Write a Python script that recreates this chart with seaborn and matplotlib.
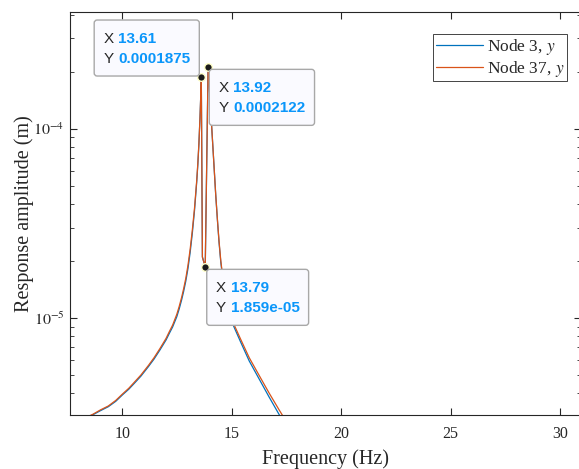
import numpy as np
import pandas as pd
import matplotlib
matplotlib.use("Agg")
import matplotlib.pyplot as plt
import seaborn as sns
from matplotlib.patches import FancyBboxPatch
from matplotlib.transforms import IdentityTransform
from matplotlib.ticker import FuncFormatter, LogLocator, NullFormatter

# ---------------- data ----------------
freq = [8.0, 8.65, 9.0, 9.36, 9.7, 10.0, 10.3, 10.55, 10.85, 11.19, 11.45, 11.72,
        12.0, 12.15, 12.3, 12.49, 12.6, 12.71, 12.8, 12.9, 13.0, 13.1, 13.2, 13.3,
        13.4, 13.45, 13.5, 13.55, 13.58, 13.61, 13.66, 13.79, 13.92, 14.0, 14.1,
        14.2, 14.27, 14.35, 14.42, 14.5, 14.6, 14.7, 14.8, 14.95, 15.1, 15.4, 15.8,
        16.29, 16.7, 17.16, 17.6, 18.0]
amp_node3 = [2.84e-6, 3.08e-6, 3.24e-6, 3.40e-6, 3.63e-6, 3.92e-6, 4.21e-6, 4.52e-6,
             4.93e-6, 5.53e-6, 6.07e-6, 6.78e-6, 7.66e-6, 8.30e-6, 8.97e-6, 1.016e-5,
             1.117e-5, 1.245e-5, 1.377e-5, 1.563e-5, 1.824e-5, 2.218e-5, 2.805e-5,
             3.70e-5, 5.22e-5, 6.43e-5, 8.28e-5, 1.143e-4, 1.436e-4, 1.875e-4, 2.1e-5,
             1.859e-5, 2.122e-4, 1.479e-4, 9.55e-5, 6.10e-5, 4.45e-5, 3.24e-5, 2.51e-5,
             1.972e-5, 1.585e-5, 1.334e-5, 1.161e-5, 1.0e-5, 8.99e-6, 7.50e-6, 5.93e-6,
             4.68e-6, 3.84e-6, 3.10e-6, 2.56e-6, 2.19e-6]
amp_node37 = [2.86e-6, 3.10e-6, 3.27e-6, 3.43e-6, 3.67e-6, 3.96e-6, 4.26e-6, 4.58e-6,
              5.00e-6, 5.61e-6, 6.17e-6, 6.90e-6, 7.81e-6, 8.48e-6, 9.18e-6, 1.046e-5,
              1.152e-5, 1.285e-5, 1.424e-5, 1.618e-5, 1.897e-5, 2.307e-5, 2.917e-5,
              3.81e-5, 5.32e-5, 6.53e-5, 8.36e-5, 1.143e-4, 1.436e-4, 1.875e-4, 2.1e-5,
              1.859e-5, 2.122e-4, 1.479e-4, 9.55e-5, 6.10e-5, 4.45e-5, 3.27e-5, 2.55e-5,
              2.01e-5, 1.617e-5, 1.367e-5, 1.19e-5, 1.03e-5, 9.26e-6, 7.76e-6, 6.17e-6,
              4.89e-6, 4.03e-6, 3.28e-6, 2.71e-6, 2.33e-6]
series_names = ["Node 3, $y$", "Node 37, $y$"]
series_colors = ["#0072BD", "#D95319"]

tip_x = [13.61, 13.92, 13.79]
tip_y = [1.875e-4, 2.122e-4, 1.859e-5]

x_ticks = [10, 15, 20, 25, 30]

# ---------------- style ----------------
sns.set_style("ticks")
plt.rcParams["font.family"] = ["Liberation Serif", "DejaVu Serif"]
plt.rcParams["mathtext.fontset"] = "stix"

df = pd.DataFrame({
    "freq": freq + freq,
    "amp": amp_node3 + amp_node37,
    "node": [series_names[0]] * len(freq) + [series_names[1]] * len(freq),
})

W, H = 579, 469
fig = plt.figure(figsize=(W / 100, H / 100), dpi=100)
ax = fig.add_axes([70 / W, 54 / H, 511 / W, 403 / H])

sns.lineplot(data=df, x="freq", y="amp", hue="node",
             palette=dict(zip(series_names, series_colors)),
             estimator=None, sort=False, linewidth=0.9, legend=False, ax=ax)

ax.set_yscale("log")
ax.set_xlim(7.61, 30.96)
ax.set_ylim(3.074e-6, 4.135e-4)
ax.set_xticks(x_ticks)
ax.set_xticklabels([str(t) for t in x_ticks])
ax.yaxis.set_major_locator(LogLocator(base=10))
ax.yaxis.set_major_formatter(FuncFormatter(lambda v, p: "$10^{%d}$" % round(np.log10(v))))
ax.yaxis.set_minor_locator(LogLocator(base=10, subs=np.arange(2, 10)))
ax.yaxis.set_minor_formatter(NullFormatter())

for s in ax.spines.values():
    s.set_linewidth(0.8)
    s.set_color("#262626")

ax.tick_params(axis="both", which="both", direction="in", top=True, right=True,
               colors="#262626", labelcolor="#262626")
ax.tick_params(axis="both", which="major", length=5, width=0.8, labelsize=11.5)
ax.tick_params(axis="both", which="minor", length=3, width=0.6)
ax.tick_params(axis="x", which="major", pad=8)
ax.tick_params(axis="y", which="major", pad=4)
ax.xaxis.set_minor_locator(matplotlib.ticker.NullLocator())

ax.set_xlabel("Frequency (Hz)", fontsize=14.5, labelpad=5.5, color="#262626")
ax.set_ylabel("Response amplitude (m)", fontsize=14.5, labelpad=-0.5, color="#262626")
ax.grid(False)

handles = ax.get_lines()[:2]
leg = ax.legend(handles, series_names, loc="upper right",
                bbox_to_anchor=((567 - 70) / 511, (415 - 34) / 403),
                borderaxespad=0, fontsize=12.5, frameon=True, fancybox=False,
                framealpha=1, edgecolor="#262626", borderpad=0.15,
                labelspacing=0.12, handlelength=2.7, handletextpad=0.25)
leg.get_frame().set_linewidth(0.6)

# data tip markers
ax.plot(tip_x, tip_y, linestyle="none", marker="o", markersize=5.5,
        markerfacecolor="#1a1a1a", markeredgecolor="#FFFFC8",
        markeredgewidth=1.0, clip_on=False, zorder=5)

# ---------------- data tips ----------------
fig.canvas.draw()
renderer = fig.canvas.get_renderer()
tip_font = ["Liberation Sans", "DejaVu Sans"]
ident = IdentityTransform()
box_h = 56
placements = ["upper_left", "lower_right", "lower_right"]
offsets = [(-2, 1), (1.2, -2.5), (1.5, -2.3)]

for tx, ty, place, (odx, ody) in zip(tip_x, tip_y, placements, offsets):
    Xp, Yp = ax.transData.transform((tx, ty))
    vals = [f"{tx:.4g}", f"{ty:.4g}"]
    val_texts = []
    lab_texts = []
    for lab, v in zip(["X", "Y"], vals):
        lt = fig.text(0, 0, lab, transform=ident, fontsize=11, family=tip_font,
                      color="#262626", va="center", ha="left", zorder=10)
        vt = fig.text(0, 0, v, transform=ident, fontsize=11, family=tip_font,
                      color="#0A96FA", fontweight="bold", va="center", ha="left",
                      zorder=10)
        lab_texts.append(lt)
        val_texts.append(vt)
    vw = max(t.get_window_extent(renderer).width for t in val_texts)
    box_w = 24 + vw + 9
    if place == "upper_left":
        right = Xp + odx
        left = right - box_w
        bottom = Yp + ody
        top = bottom + box_h
    else:
        left = Xp + odx
        top = Yp + ody
        bottom = top - box_h
    patch = FancyBboxPatch((left, bottom), box_w, box_h,
                           boxstyle="round,pad=0,rounding_size=3",
                           transform=ident, facecolor="#FAFAFF",
                           edgecolor="#A8A8A8", linewidth=1.0, zorder=9)
    fig.add_artist(patch)
    for i, (lt, vt) in enumerate(zip(lab_texts, val_texts)):
        yc = top - 19 - 20 * i
        lt.set_position((left + 9, yc))
        vt.set_position((left + 24, yc))

fig.savefig("out.png", dpi=100)
